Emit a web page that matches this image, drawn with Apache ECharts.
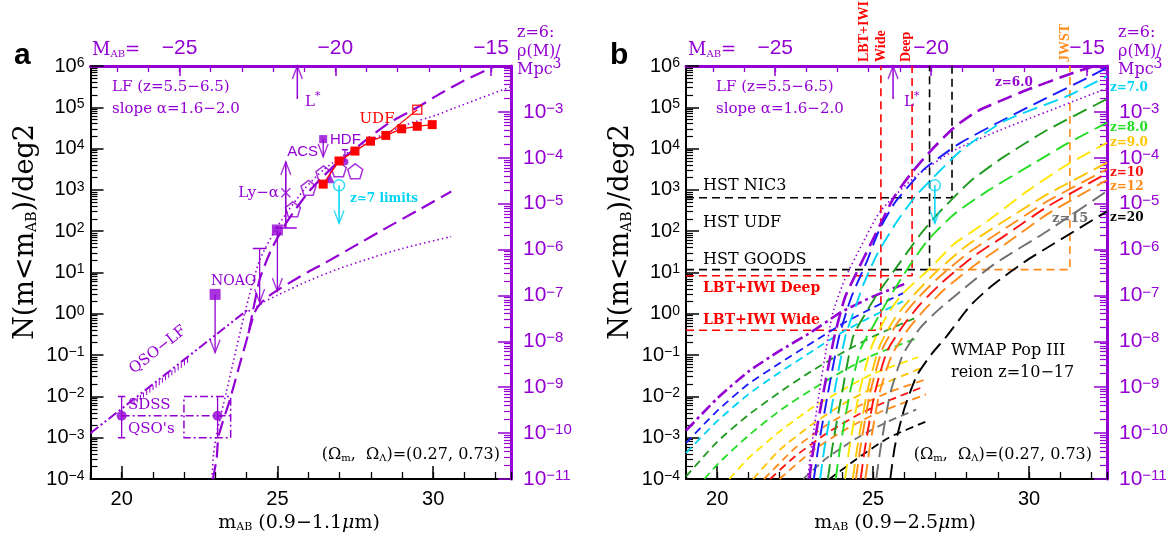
<!DOCTYPE html>
<html><head><meta charset="utf-8">
<script src="https://cdn.jsdelivr.net/npm/echarts@6/dist/echarts.min.js"></script>
<style>html,body{margin:0;padding:0;background:#fff}#c{width:1171px;height:536px}</style>
</head><body><div id="c"></div>
<script>
// ---------------- DATA (m_AB, log10 N(<m)/deg^2) ----------------
const xMajorTicks = [20, 25, 30];
const topMajorTicks = [-25, -20, -15];
const topMinorTicks = [-27,-26,-25,-24,-23,-22,-21,-20,-19,-18,-17,-16,-15];
const yDecades = [-4,-3,-2,-1,0,1,2,3,4,5,6];
const rhoDecades = [-11,-10,-9,-8,-7,-6,-5,-4,-3,-2];
const mMinusM = 46.86;   // m_AB - M_AB at z=6

// Panel a
const aLfDashUpper = [[22.93,-4],[23.05,-3.5],[23.11,-2.97],[23.47,-2.09],[23.83,-1.12],[24.07,-0.47],[24.43,0.83],[24.8,1.55],[25.2,2.1],[25.5,2.44],[26.0,2.95],[26.5,3.35],[27.0,3.7],[27.5,4.0],[28.0,4.3],[28.6,4.63],[29.5,5.0],[30.2,5.32],[31.0,5.65],[32.0,6.0]];
const aLfDashLower = [[24.07,-0.47],[24.3,0.08],[24.6,0.36],[25.0,0.57],[25.5,0.8],[26.0,1.02],[26.5,1.22],[27.5,1.65],[28.5,2.08],[29.5,2.5],[30.58,2.96]];
const aLfDotUpper = [[22.9,-4],[22.95,-3.4],[23.05,-2.9],[23.35,-1.93],[23.95,0.01],[24.43,1.3],[25.03,2.15],[25.88,3.03],[26.5,3.5],[27.5,4.02],[28.5,4.38],[29.3,4.62],[30.1,4.81],[30.64,4.97],[32.5,5.5]];
const aLfDotLower = [[23.95,0.01],[24.3,0.16],[24.6,0.3],[25.0,0.45],[26.0,0.8],[27.0,1.1],[28.0,1.35],[29.0,1.58],[30.58,1.87]];
const aQsoLf = [[19,-2.89],[24.05,0.1]];
const aSdss = [[20,-2.47],[23.08,-2.47]];
const aSdssErr = [-2, -3];
const aSdssBox = [[22.0,-2],[23.5,-2],[23.5,-3],[22.0,-3],[22.0,-2]];
const aNoao = [[23.0,0.47]], aNoaoTip = -0.94;
const aSq25 = [[25.0,2.03]], aSq25Tip = 0.55;
const aLim2443 = {m:24.43, cap:1.58, tip:0.28};
const aLya = {m:25.27, cross:2.93, cap:2.08, tip:3.68};
const aPentagons = [[25.5,2.53],[26.0,3.05],[26.48,3.4],[26.97,3.5],[27.5,3.45]];
const aTriangle = [[26.68,3.28]];
const aHdf = {m:27.17, v:3.68, cap:3.97};
const aAcs = {m:26.47, v:4.23, tip:3.8};
const aUdf = [[26.47,3.14],[26.98,3.70],[27.49,3.94],[27.99,4.18],[28.48,4.32],[28.99,4.48],[29.49,4.54],[29.97,4.58]];
const aUdfOpen = [[29.49,4.94]];
const z7Limit = {m:26.98, v:3.11, tip:2.19};
const lStar = {m:25.64, from:5.2};

// Panel b : galaxy LF curves (long dashes)
const bGal = {
  z6:      [[22.95,-4],[23.1,-3.2],[23.4,-1.93],[23.76,-0.55],[24.1,0.4],[24.55,1.12],[25.02,1.84],[25.66,2.81],[26.19,3.37],[26.84,3.94],[27.58,4.5],[28.33,4.9],[29.73,5.36],[31.44,5.84],[32.1,6.0]],
  z6_5:    [[23.1,-4],[23.25,-3.2],[23.55,-1.93],[23.91,-0.55],[24.3,0.4],[24.8,1.27],[25.18,2.0],[25.66,2.65],[26.09,3.05],[26.62,3.49],[27.26,3.86],[27.8,4.14],[28.98,4.62],[30.15,5.07],[31.97,5.75],[32.5,5.96]],
  z7:      [[23.3,-4],[23.45,-3.2],[23.75,-1.93],[24.11,-0.55],[24.45,0.2],[24.69,0.71],[25.12,1.43],[25.77,2.24],[26.41,2.89],[27.8,3.94],[29.19,4.66],[31.22,5.27],[32.5,5.75]],
  z7_5:    [[23.55,-4],[23.7,-3.2],[24.0,-1.93],[24.36,-0.55],[24.75,0.0],[25.12,0.46],[25.66,1.03],[26.51,1.92],[27.05,2.4],[28.12,3.21],[29.19,3.8],[30.58,4.45],[32.5,5.2]],
  z8:      [[23.8,-4],[23.95,-3.2],[24.25,-1.93],[24.6,-0.85],[25.0,-0.3],[25.45,0.3],[25.98,0.95],[26.73,1.76],[27.58,2.4],[28.66,2.97],[29.94,3.55],[31.22,4.12],[32.5,4.63]],
  z9:      [[24.1,-4],[24.25,-3.2],[24.55,-1.93],[24.95,-0.8],[25.4,-0.1],[25.9,0.45],[26.84,1.11],[27.58,1.68],[28.66,2.24],[29.94,2.97],[31.22,3.61],[32.5,4.14]],
  z9_5:    [[24.35,-4],[24.5,-3.2],[24.8,-1.93],[25.2,-0.8],[25.7,-0.1],[26.3,0.45],[27.0,1.0],[28.0,1.65],[29.0,2.15],[30.58,2.89],[32.5,3.66]],
  z10a:    [[24.45,-4],[24.6,-3.2],[24.9,-1.93],[25.3,-0.85],[25.8,-0.2],[26.4,0.35],[27.1,0.88],[28.1,1.5],[29.1,2.0],[30.6,2.73],[32.5,3.5]],
  z10:     [[24.6,-4],[24.75,-3.2],[25.05,-1.93],[25.45,-0.9],[25.95,-0.3],[26.5,0.22],[27.2,0.75],[28.2,1.38],[29.2,1.88],[30.6,2.6],[32.5,3.4]],
  z12:     [[24.75,-4],[24.9,-3.2],[25.2,-1.93],[25.6,-1.0],[26.1,-0.4],[26.65,0.1],[27.3,0.6],[28.3,1.2],[29.3,1.72],[30.6,2.42],[32.5,3.24]],
  z15:     [[25.1,-4],[25.25,-3.2],[25.55,-1.93],[25.95,-1.0],[26.5,-0.35],[27.1,0.1],[27.8,0.54],[28.86,1.19],[30.58,2.0],[32.5,2.97]],
  z20:     [[25.55,-4],[25.7,-3.2],[26.0,-2.3],[26.4,-1.5],[26.9,-0.95],[27.33,-0.57],[28.12,0.2],[28.86,0.71],[29.94,1.3],[30.58,1.6],[32.5,2.48]]
};
const bGalDot6 = [[22.9,-4],[23.1,-2.8],[23.4,-1.3],[23.7,0.0],[24.1,0.85],[24.59,1.6],[25.23,2.48],[26.3,3.29],[27.58,3.95],[29.08,4.45],[32.5,5.46]];
// Panel b : QSO LF curves (short dashes)
const bQso = {
  z6:   [[19,-2.83],[20,-2.05],[21,-1.4],[22,-0.9],[23,-0.45],[24,0.05],[25,0.42],[26,0.72]],
  z6_5: [[19,-3.13],[20,-2.35],[21,-1.7],[22,-1.2],[23,-0.72],[24,-0.25],[25,0.15],[25.96,0.5]],
  z7:   [[19,-3.37],[20,-2.6],[21,-1.95],[22,-1.42],[23,-0.93],[24,-0.45],[25,-0.05],[25.96,0.3]],
  z7_5: [[19,-3.94],[20,-3.1],[21,-2.45],[22,-1.9],[23,-1.4],[24,-0.95],[25,-0.55],[26.32,-0.11]],
  z8:   [[19.59,-4],[20,-3.65],[21,-2.95],[22,-2.35],[23,-1.85],[24,-1.4],[25,-1.0],[26.38,-0.6]],
  z9:   [[20.39,-4],[21,-3.5],[22,-2.85],[23,-2.3],[24,-1.85],[25,-1.45],[26.44,-1.05]],
  z9_5: [[21.15,-4],[22,-3.3],[23,-2.7],[24,-2.2],[25,-1.8],[26.6,-1.3]],
  z10a: [[21.5,-4],[22.5,-3.25],[23.5,-2.7],[24.5,-2.25],[25.5,-1.9],[26.65,-1.6]],
  z10:  [[21.7,-4],[22.5,-3.45],[23.5,-2.9],[24.5,-2.45],[25.5,-2.1],[26.67,-1.75]],
  z12:  [[22.0,-4],[23,-3.35],[24,-2.85],[25,-2.45],[26,-2.15],[26.7,-1.95]],
  z15:  [[22.76,-4],[23.5,-3.5],[24.5,-3.0],[25.5,-2.6],[26.38,-2.32]],
  z20:  [[23.6,-4],[24.5,-3.5],[25.5,-3.0],[26.73,-2.6]]
};
// Panel b : survey depth limits
const bNic3  = [[19,2.81],[27.53,2.81],[27.53,6]];
const bGoods = [[19,1.07],[26.81,1.07],[26.81,6]];
const bDeep  = [[19,0.92],[26.25,0.92],[26.25,6]];
const bWide  = [[19,-0.4],[25.25,-0.4],[25.25,6]];
const bJwst  = [[26.81,1.07],[31.31,1.07],[31.31,6]];

// ---------------- STYLE ----------------
const P = '#9400D3';
const COL = {z6:P, z6_5:'#1a1aff', z7:'#00d4f4', z7_5:'#1f9a1f', z8:'#22dd22', z9:'#ffe600',
  z9_5:'#ffc400', z10a:'#ff8c1a', z10:'#ff1010', z12:'#ff8c1a', z15:'#707070', z20:'#000000'};
const SERIF = '"DejaVu Serif", serif';
const TIMES = '"Liberation Serif", serif';
const SANS = '"Liberation Sans", Arial, sans-serif';
const LONG = [15, 7], SHORT = [8, 5], DOT = [1.5, 3];

function pts(arr){ return arr.map(p => [p[0], Math.pow(10, p[1])]); }
function supLabel(v){ return '{b|10}{s|' + (v < 0 ? '\u2212' + (-v) : v) + '}'; }
function richFor(color, b, s){ return {b:{fontSize:b, color, fontFamily:SANS}, s:{fontSize:s, color, fontFamily:SANS, verticalAlign:'top'}}; }

const xAxes = [], yAxes = [];
const yMinor = [], rhoMinor = [];
yDecades.slice(0,-1).forEach(d => { for (let k=2;k<=9;k++) yMinor.push(d + Math.log10(k)); });
rhoDecades.slice(0,-1).forEach(d => { for (let k=2;k<=9;k++) rhoMinor.push(d + Math.log10(k)); });

[0,1].forEach(g => {
  const nol = {show:false}, nosp = {show:false};
  xAxes.push(
    {gridIndex:g, type:'value', min:19, max:32.5, position:'bottom',
     axisLine:{onZero:false, lineStyle:{color:'#000', width:2}},
     axisTick:{inside:true, length:13, customValues:xMajorTicks, lineStyle:{color:'#000', width:1.5}},
     axisLabel:{customValues:xMajorTicks, color:'#000', fontSize:20, fontFamily:SANS, margin:10}, splitLine:nosp},
    {gridIndex:g, type:'value', min:19, max:32.5, interval:1, position:'bottom',
     axisLine:{onZero:false, show:false}, axisTick:{inside:true, length:7, lineStyle:{color:'#000', width:1.3}},
     axisLabel:nol, splitLine:nosp},
    {gridIndex:g, type:'value', min:19-mMinusM, max:32.5-mMinusM, position:'top',
     axisLine:{onZero:false, lineStyle:{color:P, width:3}},
     axisTick:{inside:true, length:10, customValues:topMajorTicks, lineStyle:{color:P, width:1.5}},
     axisLabel:{customValues:topMajorTicks, color:P, fontSize:21, fontFamily:SANS, margin:7,
       formatter: v => (v<0?'\u2212':'') + Math.abs(v)}, splitLine:nosp},
    {gridIndex:g, type:'value', min:19-mMinusM, max:32.5-mMinusM, position:'top',
     axisLine:{onZero:false, show:false}, axisTick:{inside:true, length:6, customValues:topMinorTicks, lineStyle:{color:P, width:1.3}},
     axisLabel:nol, splitLine:nosp}
  );
  yAxes.push(
    {gridIndex:g, type:'log', logBase:10, min:1e-4, max:1e6, position:'left',
     axisLine:{onZero:false, lineStyle:{color:'#000', width:2}}, axisTick:{show:false}, axisLabel:nol, splitLine:nosp},
    {gridIndex:g, type:'value', min:-4, max:6, interval:1, position:'left',
     axisLine:{onZero:false, show:false}, axisTick:{inside:true, length:13, lineStyle:{color:'#000', width:1.5}},
     axisLabel:{formatter:supLabel, margin:6, rich:richFor('#000', 20, 14)}, splitLine:nosp},
    {gridIndex:g, type:'value', min:-4, max:6, position:'left',
     axisLine:{onZero:false, show:false}, axisTick:{inside:true, length:7, customValues:yMinor, lineStyle:{color:'#000', width:1.2}},
     axisLabel:nol, splitLine:nosp},
    {gridIndex:g, type:'value', min:-11, max:-2, interval:1, position:'right',
     axisLine:{onZero:false, lineStyle:{color:P, width:3}}, axisTick:{inside:true, length:13, lineStyle:{color:P, width:1.5}},
     axisLabel:{formatter: v => v > -3 ? '' : supLabel(v), margin:12, rich:richFor(P, 21, 15)}, splitLine:nosp},
    {gridIndex:g, type:'value', min:-11, max:-2, position:'right',
     axisLine:{onZero:false, show:false}, axisTick:{inside:true, length:7, customValues:rhoMinor, lineStyle:{color:P, width:1.2}},
     axisLabel:nol, splitLine:nosp}
  );
});

// ---------------- SERIES HELPERS ----------------
function line(g, arr, color, dash, width, smooth){
  return {type:'line', xAxisIndex:g*4, yAxisIndex:g*5, data:pts(arr), showSymbol:false, symbol:'none',
    smooth: smooth === undefined ? 0.2 : smooth, clip:true, silent:true, z:3,
    lineStyle:{color, width, type:dash, cap:'butt', join:'round'}};
}
function marks(g, arr, symbol, size, itemStyle, extra){
  return Object.assign({type:'scatter', xAxisIndex:g*4, yAxisIndex:g*5, data:pts(arr), symbol, symbolSize:size,
    itemStyle, silent:true, z:6}, extra || {});
}
const V_DOWN = 'path://M0,0L5,10L10,0', V_UP = 'path://M0,10L5,0L10,10';
const CROSS = 'path://M0,0L10,10M10,0L0,10';
const PENT = 'path://M5,0L10,3.8L8.1,10L1.9,10L0,3.8Z';
const hollow = c => ({color:'rgba(0,0,0,0)', borderColor:c, borderWidth:1.5});
function arrow(g, m, from, to, color, w){
  const up = to > from;
  return [line(g, [[m,from],[m,to]], color, 'solid', w||1.5, false),
    marks(g, [[m,to]], up ? V_UP : V_DOWN, [10,13], hollow(color), {symbolOffset:[0, up ? '50%' : '-50%']})];
}
function cap(g, m, v, half, color){ return line(g, [[m-half,v],[m+half,v]], color, 'solid', 1.5, false); }

const series = [];
// ---------- Panel a ----------
series.push(line(0, aLfDashUpper, P, LONG, 2.2));
series.push(line(0, aLfDashLower, P, LONG, 2.2));
series.push(line(0, aLfDotUpper, P, DOT, 1.6));
series.push(line(0, aLfDotLower, P, DOT, 1.6));
series.push(line(0, aQsoLf, P, [10,3,2,3,2,3], 2, false));
// hatch under QSO-LF
series.push({type:'custom', xAxisIndex:0, yAxisIndex:0, silent:true, z:3,
  data:[[aQsoLf[0][0], Math.pow(10,aQsoLf[0][1]), aQsoLf[1][0], Math.pow(10,aQsoLf[1][1])]],
  renderItem:(params, api) => {
    const p1 = api.coord([api.value(0), api.value(1)]), p2 = api.coord([api.value(2), api.value(3)]);
    const span = api.value(2) - api.value(0);
    const t0 = (20.4 - api.value(0))/span, t1 = (22.2 - api.value(0))/span;
    const kids = [];
    for (let t=t0; t<=t1; t+=0.02) {
      const x = p1[0] + (p2[0]-p1[0])*t, y = p1[1] + (p2[1]-p1[1])*t;
      kids.push({type:'line', shape:{x1:x, y1:y+1, x2:x, y2:y+6}, style:{stroke:P, lineWidth:1}});
    }
    return {type:'group', children:kids};
  }});
// SDSS QSOs
series.push(line(0, aSdssBox, P, [8,3,2,3], 1.5, false));
series.push(line(0, [aSdss[0], [23.5, aSdss[1][1]]], P, [8,3,2,3], 1.5, false));
aSdss.forEach(p => {
  series.push(line(0, [[p[0], aSdssErr[0]],[p[0], aSdssErr[1]]], P, 'solid', 1.3, false));
});
series.push(cap(0, 20, aSdssErr[0], 0.12, P), cap(0, 20, aSdssErr[1], 0.12, P));
series.push(marks(0, aSdss, 'circle', 10, {color:P}));
// NOAO
series.push(...arrow(0, aNoao[0][0], aNoao[0][1], aNoaoTip, P, 1.3));
series.push(marks(0, aNoao, 'rect', 11, {color:P}));
// m=25 square with limit
series.push(...arrow(0, aSq25[0][0], aSq25[0][1], aSq25Tip, P, 1.3));
series.push(marks(0, aSq25, 'rect', 11, {color:P}));
series.push(...arrow(0, aLim2443.m, aLim2443.cap, aLim2443.tip, P, 1.3));
series.push(cap(0, aLim2443.m, aLim2443.cap, 0.22, P));
// Ly-alpha
series.push(...arrow(0, aLya.m, aLya.cap, aLya.tip, P, 1.6));
series.push(cap(0, aLya.m, aLya.cap, 0.35, P));
series.push(marks(0, [[aLya.m, aLya.cross]], CROSS, 9, hollow(P)));
// pentagons, triangle, HDF, ACS
series.push(marks(0, aPentagons, PENT, 15, hollow(P)));
series.push(marks(0, aTriangle, 'triangle', 10, {color:P}));
series.push(line(0, [[aHdf.m, aHdf.cap],[aHdf.m, aHdf.v]], P, 'solid', 1.3, false), cap(0, aHdf.m, aHdf.cap, 0.1, P));
series.push(marks(0, [[aHdf.m, aHdf.v]], 'circle', 7, {color:P}));
series.push(...arrow(0, aAcs.m, aAcs.v, aAcs.tip, P, 1.3));
series.push(marks(0, [[aAcs.m, aAcs.v]], 'rect', 8, {color:P}));
// UDF
series.push(Object.assign(line(0, aUdf, '#ff0000', 'solid', 1.3, false), {showSymbol:true, symbol:'rect', symbolSize:9, itemStyle:{color:'#ff0000'}, z:7}));
series.push(line(0, [aUdf[4], aUdfOpen[0]], '#ff0000', 'solid', 1.2, false));
series.push(marks(0, aUdfOpen, 'rect', 9, hollow('#ff0000'), {z:7}));
// z~7 limit
series.push(...arrow(0, z7Limit.m, z7Limit.v, z7Limit.tip, '#00d4f4', 1.5));
series.push(marks(0, [[z7Limit.m, z7Limit.v]], 'circle', 11, hollow('#00d4f4')));
// L*
series.push(...arrow(0, lStar.m, lStar.from, 6, P, 1.5));

// ---------- Panel b ----------
series.push(line(1, bNic3, '#000', [8,5], 1.6, false));
series.push(line(1, bGoods, '#000', [8,5], 1.6, false));
series.push(line(1, bDeep, '#ff0000', [8,5], 1.6, false));
series.push(line(1, bWide, '#ff0000', [8,5], 1.6, false));
series.push(line(1, bJwst, '#ff8c1a', [8,5], 1.6, false));
Object.keys(bQso).forEach(k => {
  if (k === 'z6') series.push(line(1, bQso[k], P, [12,4,3,4], 2.6));
  else series.push(line(1, bQso[k], COL[k], SHORT, 1.8));
});
series.push(line(1, bGalDot6, P, DOT, 1.6));
Object.keys(bGal).forEach(k => series.push(line(1, bGal[k], COL[k], LONG, k==='z6'?2.6:1.9)));
series.push(...arrow(1, z7Limit.m, z7Limit.v, z7Limit.tip, '#00d4f4', 1.5));
series.push(marks(1, [[z7Limit.m, z7Limit.v]], 'circle', 11, hollow('#00d4f4')));
series.push(...arrow(1, lStar.m, lStar.from, 6, P, 1.5));

// ---------------- TEXT ----------------
function T(x, y, text, o){
  o = o || {};
  return {type:'text', x, y, rotation:o.rot||0, z:100, silent:true,
    style:{text, fill:o.color||'#000', fontSize:o.size||15, fontFamily:o.font||SERIF,
      fontWeight:o.weight||'normal', align:o.align||'left', verticalAlign:o.va||'middle', rich:o.rich}};
}
function subRich(color, big, small, font, lh){
  return {n:{fontSize:big, fill:color, fontFamily:font||SERIF, lineHeight:lh},
          s:{fontSize:small, fill:color, fontFamily:font||SERIF, verticalAlign:'bottom'},
          u:{fontSize:small, fill:color, fontFamily:font||SERIF, verticalAlign:'top'},
          i:{fontSize:big, fill:color, fontFamily:font||SERIF, fontStyle:'italic'}};
}
const graphics = [];
function panelTexts(dx, xTitle){
  const rx = 517 + dx + (dx ? 5 : 0);
  graphics.push(
    T(14+dx, 56, dx ? 'b' : 'a', {size:30, weight:'bold', font:SANS}),
    T(92+dx, 50, '{n|M}{s|AB}{n|=}', {rich:subRich(P, 18, 10)}),
    T(rx, 33, 'z=6:', {color:P, size:16}),
    T(rx, 52, '\u03c1(M)/', {color:P, size:16}),
    T(rx, 70, '{n|Mpc}{u|3}', {rich:subRich(P, 16, 14, SERIF, 26)}),
    T(112+dx+(dx?8:0), 87, 'LF (z=5.5\u22126.5)', {color:P, size:15}),
    T(112+dx+(dx?8:0), 109, 'slope \u03b1=1.6\u22122.0', {color:P, size:15}),
    T(305+dx+(dx?3:0), 102, '{n|L}{u|*}', {rich:subRich(P, 15, 11, SERIF, 22)}),
    T(26+dx-(dx?1:0), 232, '{n|N(m<m}{s|AB}{n|)/deg2}', {rot:Math.PI/2, align:'center', rich:subRich('#000', 27, 14)}),
    T(299+dx, 523, '{n|m}{s|AB}{n| (0.9\u2212' + xTitle + '}{i|\u03bc}{n|m)}', {align:'center', rich:subRich('#000', 19, 11)}),
    T(500+dx-(dx?4:0), 455, '{n|(\u03a9}{s|m}{n|,  \u03a9}{s|\u039b}{n|)=(0.27, 0.73)}', {align:'right', rich:subRich('#000', 16, 10)})
  );
}
panelTexts(0, '1.1');
panelTexts(596, '2.5');
graphics.push(
  T(377, 119, 'UDF', {color:'#ff0000', size:15, align:'center'}),
  T(330, 140, 'HDF', {color:P, size:15, font:SANS}),
  T(318, 152, 'ACS', {color:P, size:15, font:SANS, align:'right'}),
  T(279, 193, 'Ly\u2212\u03b1', {color:P, size:15, align:'right'}),
  T(350, 199, 'z\u22437 limits', {color:'#00d4f4', size:12, weight:'bold'}),
  T(211, 281, 'NOAO', {color:P, size:14}),
  T(158, 350, 'QSO\u2212LF', {color:P, size:15, align:'center', rot:0.67}),
  T(128, 405, 'SDSS', {color:P, size:15}),
  T(128, 429, "QSO's", {color:P, size:15}),
  // panel b
  T(703, 186, 'HST NIC3', {size:16}),
  T(703, 223, 'HST UDF', {size:16}),
  T(703, 260, 'HST GOODS', {size:16}),
  T(703, 288, 'LBT+IWI Deep', {color:'#ff0000', size:14, weight:'bold'}),
  T(703, 320, 'LBT+IWI Wide', {color:'#ff0000', size:14, weight:'bold'}),
  T(951, 351, 'WMAP Pop III', {size:16}),
  T(951, 373, 'reion z=10\u221217', {size:16}),
  T(864, 62, 'LBT+IWI', {color:'#ff0000', size:14, weight:'bold', font:TIMES, rot:Math.PI/2}),
  T(881, 62, 'Wide', {color:'#ff0000', size:14, weight:'bold', font:TIMES, rot:Math.PI/2}),
  T(906, 62, 'Deep', {color:'#ff0000', size:14, weight:'bold', font:TIMES, rot:Math.PI/2}),
  T(1065, 62, 'JWST', {color:'#ff8c1a', size:14, weight:'bold', font:TIMES, rot:Math.PI/2}),
  T(995, 83, 'z=6.0', {color:P, size:12, weight:'bold'}),
  T(1110, 88, 'z=7.0', {color:COL.z7, size:12, weight:'bold'}),
  T(1110, 128, 'z=8.0', {color:COL.z8, size:12, weight:'bold'}),
  T(1110, 143, 'z=9.0', {color:COL.z9_5, size:12, weight:'bold'}),
  T(1110, 173, 'z=10', {color:COL.z10, size:12, weight:'bold'}),
  T(1110, 187, 'z=12', {color:COL.z12, size:12, weight:'bold'}),
  T(1052, 219, 'z=15', {color:COL.z15, size:13, weight:'bold'}),
  T(1110, 218, 'z=20', {color:'#000', size:12, weight:'bold'})
);

const chart = echarts.init(document.getElementById('c'), null, {renderer:'canvas'});
chart.setOption({
  animation:false,
  backgroundColor:'#fff',
  grid:[{left:90.5, top:66, width:420.5, height:413}, {left:686, top:66, width:421, height:413}],
  xAxis:xAxes, yAxis:yAxes, series, graphic:graphics
});
</script></body></html>
